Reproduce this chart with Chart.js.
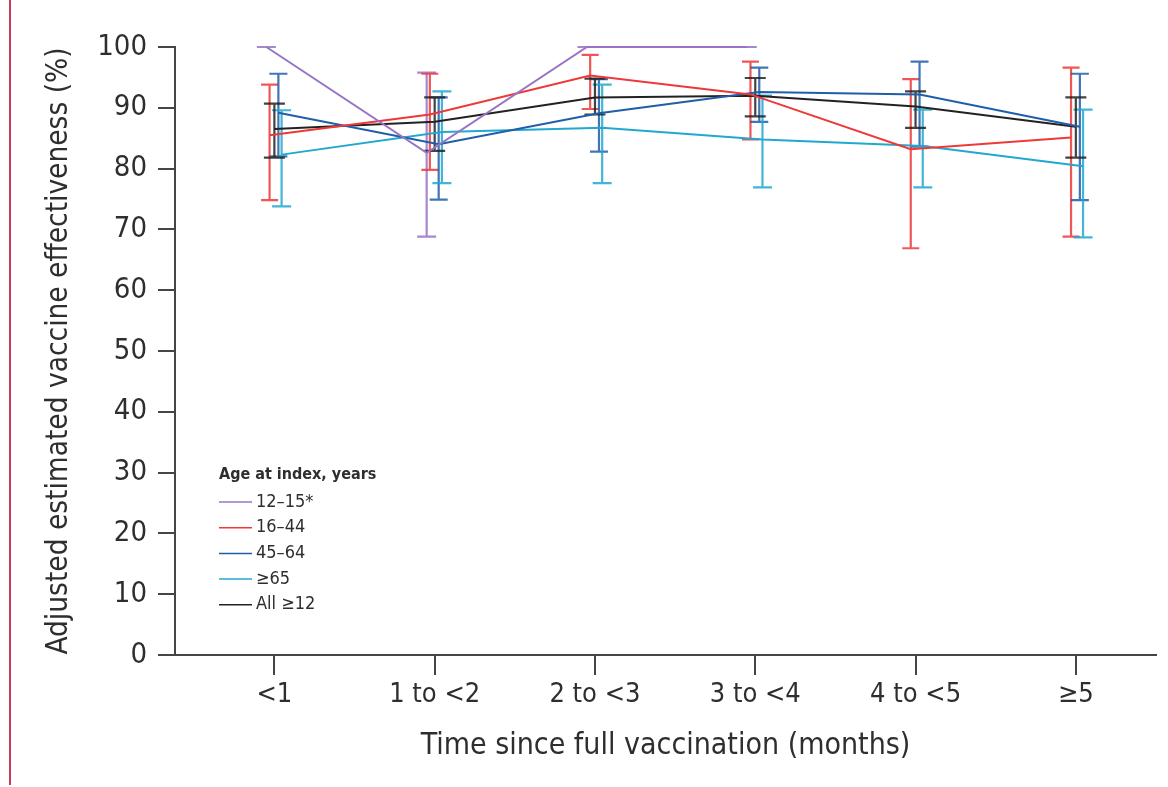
<!DOCTYPE html>
<html lang="en">
<head>
    <meta charset="UTF-8">
    <title>Vaccine effectiveness by time since full vaccination</title>
    <script src="https://cdn.jsdelivr.net/npm/chart.js"></script>
    <style>
        body { margin: 0; background: #fff; }
        .wrap { position: relative; width: 1168px; height: 787px; }
        .rule { position: absolute; left: 9px; top: 0; width: 2px; height: 785px; background: #c8395c; }
        canvas { position: absolute; left: 0; top: 0; }
    </style>
</head>
<body>
<div class="wrap">
    <div class="rule"></div>
    <canvas id="veChart" width="1168" height="787"></canvas>
</div>

<script>
const categories = ['<1', '1 to <2', '2 to <3', '3 to <4', '4 to <5', '≥5'];
const yTicks = [0, 10, 20, 30, 40, 50, 60, 70, 80, 90, 100];

// point estimates and 95% CI
const ve12_15 = [100, 82.6, 100, 100, null, null];
const lo12_15 = [100, 68.8, 100, 100, null, null];
const hi12_15 = [100, 95.8, 100, 100, null, null];

const ve16_44 = [85.5, 88.9, 95.3, 92.2, 83.2, 85.1];
const lo16_44 = [74.8, 79.8, 89.8, 84.8, 66.9, 68.8];
const hi16_44 = [93.8, 95.6, 98.7, 97.6, 94.7, 96.6];

const ve45_64 = [89.2, 84.0, 89.1, 92.6, 92.2, 86.9];
const lo45_64 = [82.0, 74.9, 82.8, 87.7, 83.6, 74.8];
const hi45_64 = [95.6, 91.7, 94.7, 96.6, 97.6, 95.6];

const ve65 = [82.3, 86.0, 86.7, 84.8, 83.7, 80.4];
const lo65 = [73.8, 77.6, 77.6, 76.9, 76.9, 68.7];
const hi65 = [89.6, 92.7, 93.8, 92.0, 89.7, 89.7];

const veAll = [86.5, 87.7, 91.7, 92.0, 90.2, 86.9];
const loAll = [81.8, 82.9, 88.9, 88.6, 86.7, 81.8];
const hiAll = [90.7, 91.7, 94.8, 94.9, 92.7, 91.7];

const FONT = "'DejaVu Sans Condensed', 'DejaVu Sans', sans-serif";
const TEXT = '#2e2e2e';
const AXIS = '#454545';

// small sideways dodge so the error bars don't sit on top of each other
function series(label, color, vals, lo, hi, dodge, cap) {
    return {
        label: label,
        data: categories.map((c, i) => ({ x: i + dodge, y: vals[i], lo: lo[i], hi: hi[i] })),
        borderColor: color,
        backgroundColor: color,
        borderWidth: 2,
        pointRadius: 0,
        tension: 0,
        clip: false,
        capWidth: cap
    };
}

const errorBars = {
    id: 'errorBars',
    beforeDatasetsDraw(chart) {
        const ctx = chart.ctx;
        const xs = chart.scales.x, ys = chart.scales.y;
        chart.data.datasets.forEach(ds => {
            ctx.save();
            ctx.strokeStyle = ds.borderColor;
            ctx.globalAlpha = 0.85;
            ctx.lineWidth = 2.2;
            ds.data.forEach(p => {
                if (p.y == null) return;
                const x = xs.getPixelForValue(p.x);
                const yl = ys.getPixelForValue(p.lo);
                const yh = ys.getPixelForValue(p.hi);
                const w = ds.capWidth / 2;
                ctx.beginPath();
                ctx.moveTo(x, yl); ctx.lineTo(x, yh);
                ctx.moveTo(x - w, yl); ctx.lineTo(x + w, yl);
                ctx.moveTo(x - w, yh); ctx.lineTo(x + w, yh);
                ctx.stroke();
            });
            ctx.restore();
        });
    }
};

const ageLegend = {
    id: 'ageLegend',
    afterDraw(chart) {
        const ctx = chart.ctx;
        const left = chart.chartArea.left + 44;
        let y = 475;
        ctx.save();
        ctx.fillStyle = TEXT;
        ctx.textBaseline = 'middle';
        ctx.font = 'bold 16px ' + FONT;
        ctx.fillText('Age at index, years', left, y);
        ctx.font = '18px ' + FONT;
        y += 27;
        chart.data.datasets.forEach(ds => {
            ctx.strokeStyle = ds.borderColor;
            ctx.lineWidth = 1.5;
            ctx.beginPath();
            ctx.moveTo(left, y);
            ctx.lineTo(left + 33, y);
            ctx.stroke();
            ctx.fillText(ds.label, left + 37, y);
            y += 25.7;
        });
        ctx.restore();
    }
};

new Chart(document.getElementById('veChart'), {
    type: 'line',
    data: {
        datasets: [
            series('12–15*', '#9774c4', ve12_15, lo12_15, hi12_15, -0.05, 19),
            series('16–44', '#ef3838', ve16_44, lo16_44, hi16_44, -0.03, 17),
            series('45–64', '#1f5ea8', ve45_64, lo45_64, hi45_64, 0.025, 18),
            series('≥65', '#22a8cf', ve65, lo65, hi65, 0.045, 19),
            series('All ≥12', '#222222', veAll, loAll, hiAll, 0, 21)
        ]
    },
    options: {
        responsive: false,
        animation: false,
        devicePixelRatio: 1,
        layout: { padding: { left: 0, top: 47, right: 12, bottom: 0 } },
        plugins: { legend: { display: false }, tooltip: { enabled: false } },
        scales: {
            x: {
                type: 'linear',
                min: -0.62,
                max: 5.5,
                afterFit(scale) { scale.height = 132; },
                afterBuildTicks(scale) { scale.ticks = categories.map((c, i) => ({ value: i })); },
                border: { display: true, color: AXIS, width: 2 },
                grid: { drawOnChartArea: false, drawTicks: true, tickLength: 20, color: AXIS, lineWidth: 2 },
                ticks: {
                    includeBounds: false,
                    autoSkip: false,
                    maxRotation: 0,
                    padding: 4,
                    color: TEXT,
                    font: { family: FONT, size: 27 },
                    callback: v => categories[v]
                },
                title: {
                    display: true,
                    text: 'Time since full vaccination (months)',
                    color: TEXT,
                    font: { family: FONT, size: 30, lineHeight: 1.2 },
                    padding: { top: 0, bottom: 23 }
                }
            },
            y: {
                min: 0,
                max: 100,
                afterFit(scale) { scale.width = 175; },
                afterBuildTicks(scale) { scale.ticks = yTicks.map(v => ({ value: v })); },
                border: { display: true, color: AXIS, width: 2 },
                grid: { drawOnChartArea: false, drawTicks: true, tickLength: 17, color: AXIS, lineWidth: 2 },
                ticks: {
                    padding: 11,
                    color: TEXT,
                    font: { family: FONT, size: 29 }
                },
                title: {
                    display: true,
                    text: 'Adjusted estimated vaccine effectiveness (%)',
                    color: TEXT,
                    font: { family: FONT, size: 29.5, lineHeight: 1.2 },
                    padding: { top: 42, bottom: 0 }
                }
            }
        }
    },
    plugins: [errorBars, ageLegend]
});
</script>
</body>
</html>
